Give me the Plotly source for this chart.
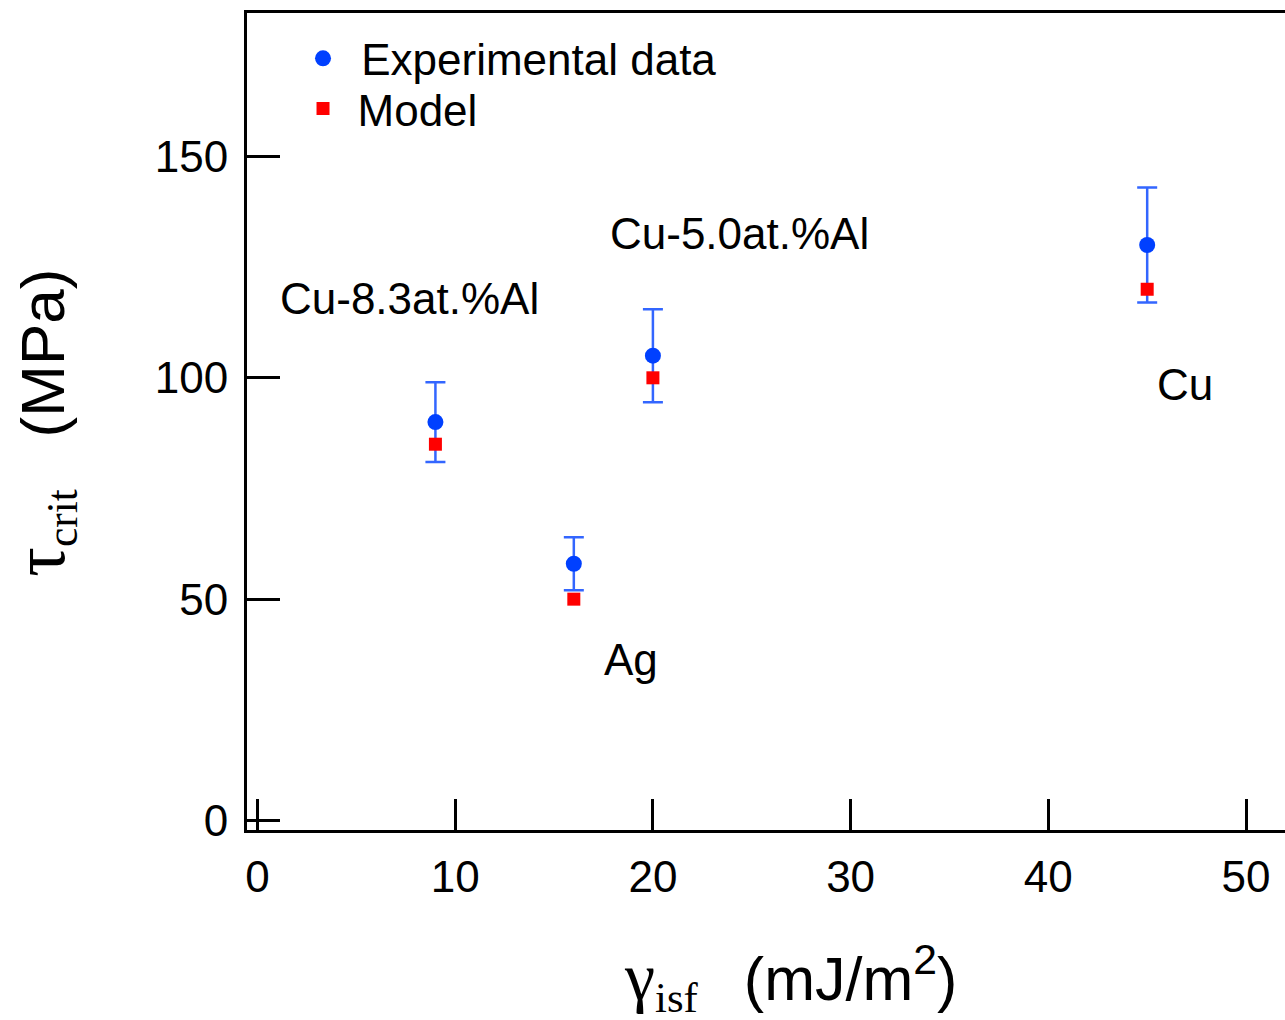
import plotly.graph_objects as go

# ---- data ----
gamma_isf = [9, 16, 20, 45]                 # mJ/m^2
tau_exp = [90, 58, 105, 130]                # MPa, experimental
tau_exp_err = [9, 6, 10.5, 13]              # MPa, error bar half-width
tau_model = [85, 50, 100, 120]              # MPa, model

label_text = ["Cu-8.3at.%Al", "Cu-5.0at.%Al", "Ag", "Cu"]
label_x = [7.7, 24.4, 18.9, 46.9]
label_y = [118, 132.6, 36.3, 98.4]

x_ticks = [0, 10, 20, 30, 40, 50]
y_ticks = [0, 50, 100, 150]

SANS = "Liberation Sans, Arial, Helvetica, sans-serif"
SERIF_SPAN = "font-family:Liberation Serif, Times New Roman, serif"

fig = go.Figure()
fig.add_trace(go.Scatter(
    x=gamma_isf, y=tau_exp, mode="markers", name="\u200aExperimental data",
    legend="legend",
    marker=dict(symbol="circle", size=16, color="#0040ff"),
    error_y=dict(type="data", array=tau_exp_err, visible=True,
                 color="#3366ff", thickness=2.5, width=10),
))
fig.add_trace(go.Scatter(
    x=gamma_isf, y=tau_model, mode="markers", name="Model",
    legend="legend2",
    marker=dict(symbol="square", size=13, color="#ff0000"),
))

for t, x, y in zip(label_text, label_x, label_y):
    fig.add_annotation(x=x, y=y, xref="x", yref="y", text=t, showarrow=False,
                       font=dict(family=SANS, size=44, color="black"),
                       xanchor="center", yanchor="middle")

# axis titles
fig.add_annotation(
    xref="paper", yref="paper", x=0.524, y=-0.181, showarrow=False,
    xanchor="center", yanchor="middle",
    text=(f'<span style="{SERIF_SPAN};font-size:68px">γ</span>'
          f'<span style="{SERIF_SPAN}"><sub>isf</sub></span>'
          '  \u2009(mJ/m<sup>2</sup>)'),
    font=dict(family=SANS, size=61, color="black"),
)
fig.add_annotation(
    xref="paper", yref="paper", x=-0.197, y=0.498, showarrow=False,
    xanchor="center", yanchor="middle", textangle=-90,
    text=(f'<span style="{SERIF_SPAN};font-size:74px">τ</span>'
          f'<span style="{SERIF_SPAN}"><sub>crit</sub></span>'
          '   (MPa)'),
    font=dict(family=SANS, size=62, color="black"),
)

legend_common = dict(xanchor="left", yanchor="top", bgcolor="rgba(0,0,0,0)",
                     font=dict(family=SANS, size=44, color="black"),
                     itemsizing="trace", itemwidth=59)

fig.update_layout(
    width=1285, height=1020,
    margin=dict(l=246.5, r=0, t=12.5, b=189.5),
    paper_bgcolor="white", plot_bgcolor="white",
    font=dict(family=SANS, size=44, color="black"),
    showlegend=True,
    legend=dict(x=0.040, y=0.9875, **legend_common),
    legend2=dict(x=0.040, y=0.9261, **legend_common),
    xaxis=dict(range=[-0.53, 51.97], tickvals=x_ticks, ticks="inside",
               ticklen=31, tickwidth=3, tickcolor="black",
               showline=True, linewidth=3, linecolor="black", mirror=True,
               showgrid=False, zeroline=False, ticklabelstandoff=6,
               tickfont=dict(family=SANS, size=44, color="black")),
    yaxis=dict(range=[-2.14, 182.4], tickvals=y_ticks, ticks="inside",
               ticklen=33, tickwidth=3, tickcolor="black",
               showline=True, linewidth=3, linecolor="black", mirror=False,
               showgrid=False, zeroline=False, ticklabelstandoff=7,
               tickfont=dict(family=SANS, size=44, color="black")),
)

fig.write_html("out.html", config={"displayModeBar": False},
               post_script="document.body.style.margin='0';")
